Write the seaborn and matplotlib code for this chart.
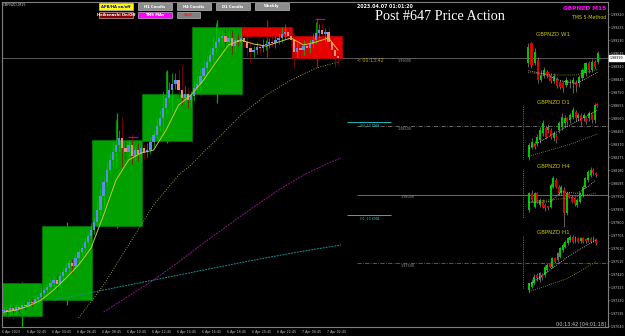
import numpy as np
import pandas as pd
import matplotlib
matplotlib.use("Agg")
import matplotlib.pyplot as plt
import seaborn as sns
from matplotlib.patches import Rectangle
from matplotlib.lines import Line2D
import matplotlib.transforms as mtransforms

sns.set_theme(style="dark", rc={"figure.facecolor": "black", "axes.facecolor": "black",
                                "axes.edgecolor": "#808080", "axes.grid": False})
plt.rcParams['font.family'] = ['DejaVu Sans']

# ---------------- data: main M15 chart ----------------
closes = [1.97157, 1.97142, 1.97172, 1.97150, 1.97179, 1.97164, 1.97194, 1.97186, 1.97215, 1.97208,
          1.97237, 1.97252, 1.97281, 1.97303, 1.97325, 1.97354, 1.97376, 1.97347, 1.97406, 1.97435,
          1.97464, 1.97501, 1.97479, 1.97537, 1.97581, 1.97610, 1.97654, 1.97698, 1.97742, 1.97800,
          1.97888, 1.97990, 1.98093, 1.98180, 1.98253, 1.98312, 1.98363, 1.98414, 1.98341, 1.98312,
          1.98363, 1.98283, 1.98327, 1.98297, 1.98341, 1.98312, 1.98327, 1.98385, 1.98436, 1.98502,
          1.98560, 1.98634, 1.98707, 1.98765, 1.98809, 1.98838, 1.98765, 1.98707, 1.98736, 1.98692,
          1.98721, 1.98780, 1.98809, 1.98868, 1.98926, 1.98970, 1.99021, 1.99072, 1.99116, 1.99145,
          1.99160, 1.99116, 1.99145, 1.99087, 1.99131, 1.99116, 1.99145, 1.99116, 1.99072, 1.99043,
          1.99058, 1.99079, 1.99072, 1.99094, 1.99101, 1.99116, 1.99109, 1.99131, 1.99145, 1.99175,
          1.99189, 1.99160, 1.99131, 1.99043, 1.99072, 1.99058, 1.99087, 1.99072, 1.99101, 1.99131,
          1.99182, 1.99204, 1.99175, 1.99189, 1.99116, 1.99058, 1.99014, 1.98999]
first_open = 1.97150
wick_up = [2, 1, 3, 2, 2, 1, 3, 2, 2, 2,
           3, 2, 3, 2, 3, 4, 2, 5, 3, 3,
           4, 2, 3, 4, 3, 3, 4, 3, 5, 4,
           6, 5, 4, 6, 5, 8, 18, 6, 15, 5,
           4, 8, 3, 5, 4, 3, 5, 4, 4, 5,
           6, 12, 20, 6, 8, 5, 7, 18, 6, 5,
           4, 5, 6, 5, 6, 5, 6, 8, 14, 5,
           4, 5, 4, 6, 3, 4, 5, 3, 4, 5,
           3, 4, 3, 4, 3, 3, 4, 3, 4, 5,
           6, 4, 3, 5, 4, 3, 4, 3, 4, 5,
           8, 4, 5, 3, 4, 3, 2, 2]
wick_dn = [2, 3, 2, 6, 2, 3, 2, 3, 2, 2,
           2, 3, 2, 3, 2, 2, 3, 4, 2, 3,
           2, 3, 5, 2, 3, 2, 3, 2, 3, 3,
           3, 4, 8, 4, 3, 4, 12, 5, 14, 6,
           5, 6, 4, 5, 6, 5, 4, 3, 4, 3,
           4, 10, 5, 4, 16, 4, 6, 5, 4, 6,
           5, 4, 3, 4, 3, 4, 3, 4, 4, 3,
           4, 5, 3, 6, 4, 3, 5, 4, 6, 8,
           4, 3, 4, 3, 4, 3, 3, 4, 3, 3,
           4, 3, 5, 12, 4, 5, 4, 3, 4, 3,
           3, 4, 3, 5, 6, 6, 8, 5]
PIP = 0.0001

# H4 condition boxes (in M15 bar units)
box_start = [-0.5, 12.25, 28.25, 44.25, 60.25, 76.25, 92.25]
box_end = [12.25, 28.25, 44.25, 60.25, 76.25, 92.25, 108.25]
box_open = [1.97113, 1.97230, 1.97771, 1.98392, 1.98735, 1.99225, 1.99159]
box_close = [1.97354, 1.97771, 1.98399, 1.98735, 1.99225, 1.99159, 1.98999]
box_high = [1.97360, 1.97800, 1.98597, 1.98911, 1.99276, 1.99276, 1.99291]
box_low = [1.97033, 1.97193, 1.97756, 1.98377, 1.98670, 1.99006, 1.98933]

# moving averages (bar index, value)
ma_fast_bar = [0, 4, 8, 12, 16, 20, 24, 28, 32, 36, 40, 44, 48, 52, 56, 60, 64, 68, 72, 76,
               80, 84, 88, 92, 96, 100, 104, 107]
ma_fast = [1.97142, 1.97157, 1.97186, 1.97230, 1.97303, 1.97391, 1.97486, 1.97610, 1.97851, 1.98107,
           1.98253, 1.98304, 1.98326, 1.98472, 1.98655, 1.98728, 1.98838, 1.98969, 1.99094, 1.99130,
           1.99101, 1.99086, 1.99116, 1.99145, 1.99094, 1.99116, 1.99145, 1.99057]
ma_slow_bar = [24, 32, 40, 48, 56, 60, 64, 68, 76, 84, 92, 100, 107]
ma_slow = [1.97098, 1.97340, 1.97632, 1.97924, 1.98144, 1.98217, 1.98312, 1.98399, 1.98582,
           1.98728, 1.98838, 1.98925, 1.98969]
ma_purple_bar = [32, 40, 48, 56, 64, 72, 80, 88, 96, 104, 108]
ma_purple = [1.97142, 1.97259, 1.97376, 1.97508, 1.97647, 1.97778, 1.97910, 1.98034, 1.98144,
             1.98231, 1.98268]
ma_teal_bar = [16, 32, 48, 64, 80, 96, 108]
ma_teal = [1.97230, 1.97303, 1.97376, 1.97449, 1.97522, 1.97588, 1.97632]

bid_price = 1.98999
round_levels = [1.99000, 1.98500, 1.98000, 1.97500]
ema_levels = [1.98531, 1.97851]
ema_names = ["4H_10 EMA", "D1_10 EMA"]
sr_marks_price = [1.98421, 1.99284]
sr_marks_start = [39.8, 99.7]
sr_marks_end = [43.0, 102.9]

time_label_bars = [0, 8, 16, 24, 32, 40, 48, 56, 64, 72, 80, 88, 96, 104]
time_labels = ["6 Apr 2023", "6 Apr 02:45", "6 Apr 04:45", "6 Apr 06:45", "6 Apr 08:45",
               "6 Apr 10:45", "6 Apr 12:45", "6 Apr 14:45", "6 Apr 16:45", "6 Apr 18:45",
               "6 Apr 20:45", "6 Apr 22:45", "7 Apr 00:45", "7 Apr 02:45"]
price_ticks = [1.97040, 1.97135, 1.97230, 1.97325, 1.97420, 1.97515, 1.97610, 1.97705, 1.97800,
               1.97895, 1.97990, 1.98085, 1.98180, 1.98275, 1.98370, 1.98465, 1.98560, 1.98655,
               1.98750, 1.98845, 1.98940, 1.99035, 1.99130, 1.99225, 1.99320]

# ---------------- data: mini panels (relative levels) ----------------
w1_open = [300, 360, 300, 310, 250, 262, 275, 265, 248, 250, 245, 240, 235, 245, 240, 245, 240, 255, 270, 300, 280, 305, 305]
w1_close = [350, 295, 335, 250, 265, 280, 265, 248, 262, 232, 228, 225, 250, 240, 250, 235, 260, 280, 300, 280, 305, 290, 330]
w1_high = [360, 365, 345, 320, 280, 290, 280, 272, 270, 258, 250, 248, 258, 252, 258, 250, 265, 285, 305, 308, 312, 310, 338]
w1_low = [290, 285, 295, 240, 245, 255, 255, 240, 240, 225, 222, 215, 230, 225, 210, 215, 230, 250, 262, 270, 275, 282, 298]
w1_wma_i = [0, 5, 10, 15, 19, 22]
w1_wma = [278, 268, 248, 240, 258, 275]
w1_oma_i = [0, 9, 15, 22]
w1_oma = [272, 265, 265, 282]

d1_open = [20, 50, 60, 60, 70, 90, 105, 100, 100, 75, 85, 100, 110, 120, 135, 130, 140, 155, 135, 145, 135, 140, 135, 150, 130, 178]
d1_close = [55, 65, 50, 80, 100, 120, 80, 110, 80, 90, 70, 120, 140, 135, 125, 145, 160, 135, 145, 125, 145, 125, 150, 130, 175, 172]
d1_high = [62, 75, 68, 88, 108, 130, 112, 118, 105, 98, 90, 128, 150, 145, 140, 152, 168, 160, 150, 150, 152, 142, 158, 155, 180, 180]
d1_low = [10, 42, 44, 52, 62, 82, 72, 92, 72, 66, 60, 92, 100, 112, 115, 122, 132, 128, 128, 115, 128, 118, 128, 122, 122, 168]
d1_wma_i = [0, 8, 16, 25]
d1_wma = [45, 85, 120, 160]
d1_oma_i = [0, 8, 16, 25]
d1_oma = [22, 40, 60, 88]

h4_open = [250, 300, 260, 300, 265, 275, 265, 262, 260, 320, 340, 320, 300, 310, 240, 300, 290, 285, 265, 275, 295, 320, 340, 355, 370, 362]
h4_close = [300, 280, 300, 275, 280, 260, 255, 255, 325, 345, 320, 300, 320, 240, 300, 290, 275, 270, 280, 300, 320, 345, 365, 370, 360, 355]
h4_high = [305, 310, 305, 305, 285, 282, 270, 265, 330, 352, 345, 325, 325, 318, 305, 305, 295, 290, 285, 305, 325, 350, 370, 378, 375, 365]
h4_low = [245, 275, 255, 270, 258, 255, 248, 250, 255, 315, 315, 295, 295, 200, 235, 285, 270, 262, 258, 270, 290, 315, 335, 350, 355, 350]
h4_wma_i = [0, 8, 12, 18, 22, 25]
h4_wma = [272, 275, 305, 300, 320, 340]
h4_oma_i = [0, 14, 25]
h4_oma = [275, 285, 300]

h1_open = [10, 20, 30, 55, 40, 55, 55, 70, 90, 80, 105, 100, 110, 130, 140, 150, 160, 170, 158, 167, 158, 165, 162, 160, 163, 160, 162]
h1_close = [30, 35, 50, 45, 60, 45, 80, 85, 80, 105, 95, 120, 135, 145, 155, 165, 170, 155, 168, 155, 165, 155, 157, 165, 155, 167, 152]
h1_high = [35, 42, 58, 60, 65, 60, 85, 92, 95, 110, 110, 125, 140, 150, 160, 170, 176, 175, 172, 170, 170, 168, 165, 170, 168, 172, 165]
h1_low = [2, 15, 25, 38, 35, 40, 50, 65, 75, 75, 90, 95, 105, 125, 135, 145, 155, 150, 152, 150, 152, 150, 150, 155, 150, 155, 145]
h1_wma_i = [0, 16, 26]
h1_wma = [25, 115, 160]
h1_oma_i = [0, 15, 26]
h1_oma = [5, 45, 95]

# ---------------- figure ----------------
W, H = 625, 336
fig = plt.figure(figsize=(W / 100, H / 100), dpi=100, facecolor='black')


def fx(x):
    return x / W


def fy(y):
    return 1 - y / H


ax = fig.add_axes([2 / W, 9 / H, 606 / W, 325 / H])
ax.set_facecolor('black')
ax.set_xlim(-0.5, 193.42)
ax.set_ylim(1.97033, 1.99408)
for s in ax.spines.values():
    s.set_color('#808080')
    s.set_linewidth(0.8)

# H4 boxes
for s0, s1, o, c, hi, lo in zip(box_start, box_end, box_open, box_close, box_high, box_low):
    col = '#00a000' if c >= o else '#e60000'
    wcol = '#00b000' if c >= o else '#e60000'
    mid = (s0 + s1) / 2
    ax.vlines(mid, lo, hi, color=wcol, lw=0.9, zorder=1)
    ax.add_patch(Rectangle((s0, min(o, c)), s1 - s0, abs(c - o), facecolor=col,
                           edgecolor='#007a00' if c >= o else '#c00000', lw=0.5, zorder=1.5))

# candles
c_arr = np.array(closes)
o_arr = np.array([first_open] + closes[:-1])
x_arr = np.arange(len(closes))
hi_arr = np.maximum(o_arr, c_arr) + np.array(wick_up) * PIP
lo_arr = np.minimum(o_arr, c_arr) - np.array(wick_dn) * PIP
up = c_arr >= o_arr
ax.vlines(x_arr[up], lo_arr[up], hi_arr[up], color='#00c800', lw=0.5, zorder=3)
ax.vlines(x_arr[~up], lo_arr[~up], hi_arr[~up], color='#a00000', lw=0.5, zorder=3)
body = np.maximum(np.abs(c_arr - o_arr), 0.00003)
ax.bar(x_arr, body, bottom=np.minimum(o_arr, c_arr), width=0.72,
       color=np.where(up, '#5b8def', '#f4877a'), linewidth=0, zorder=4)

# moving averages
sns.lineplot(x=ma_teal_bar, y=ma_teal, ax=ax, color='#1f8f8f', lw=0.7, linestyle=(0, (2, 1)), zorder=2)
sns.lineplot(x=ma_purple_bar, y=ma_purple, ax=ax, color='#8b1a8b', lw=0.7, linestyle=(0, (2, 1)), zorder=2)
sns.lineplot(x=ma_slow_bar, y=ma_slow, ax=ax, color='#9a9a2a', lw=0.7, linestyle=(0, (1, 1.5)), zorder=2)
sns.lineplot(x=ma_fast_bar, y=ma_fast, ax=ax, color='#c8c83c', lw=0.7, zorder=5)

for p, s0, s1 in zip(sr_marks_price, sr_marks_start, sr_marks_end):
    ax.hlines(p, s0, s1, color='#b000b0', lw=0.9, zorder=6)

# horizontal levels
ax.axhline(bid_price, color='#5a5a5a', lw=0.7, zorder=0.5)
ax.hlines(round_levels[1], 113.1, 193.42, color='#8a8a8a', lw=0.5, linestyles=[(0, (6, 2, 1, 2))])
ax.hlines(round_levels[2], 113.1, 193.42, color='#7a7a7a', lw=0.6)
ax.hlines(round_levels[3], 113.1, 193.42, color='#7a7a7a', lw=0.5, linestyles=[(0, (6, 2, 1, 2))])
for lev, name in zip(ema_levels, ema_names):
    ax.hlines(lev, 109.9, 124.0, color='#20b8b8', lw=0.7)
    ax.annotate(name, (117.0, lev), xytext=(0, -2.2), textcoords='offset points',
                ha='center', va='center', fontsize=2.4, color='#20b8b8')
for lev, px in zip(round_levels, [397, 397, 400, 400]):
    ax.annotate(f"{lev:.5f}", ((px + 8 - 2) / 3.125 - 0.5, lev), xytext=(0, -2),
                textcoords='offset points', ha='center', va='center', fontsize=2.4, color='#9a9a9a')

# axes ticks
ax.yaxis.tick_right()
ax.set_yticks(price_ticks)
ax.set_yticklabels([f"{v:.5f}" for v in price_ticks])
ax.tick_params(axis='y', colors='#808080', labelcolor='#c8c8c8', labelsize=2.3, length=1.2, width=0.4, pad=0.8)
ax.set_xticks([b - 0.45 for b in time_label_bars])
ax.set_xticklabels(time_labels)
ax.tick_params(axis='x', colors='#808080', labelcolor='#c8c8c8', labelsize=2.3, length=1.5, width=0.4, pad=1)
for lbl in ax.get_xticklabels():
    lbl.set_ha('left')
ax.set_xlabel('')
ax.set_ylabel('')

bt = mtransforms.blended_transform_factory(ax.transAxes, ax.transData)
ax.text(1.003, bid_price, f"{bid_price:.5f}", transform=bt, ha='left', va='center', fontsize=2.3,
        color='black', clip_on=False, zorder=10,
        bbox=dict(boxstyle='square,pad=0.25', fc='white', ec='white'))


# ---------------- mini panels ----------------
def panel(x0, x1, ytop, ybot, origin, o, c, h, l, wi, wv, oi, ov, title, ty):
    a = fig.add_axes([fx(x0), fy(ybot), (x1 - x0) / W, (ybot - ytop) / H])
    a.set_facecolor('none')
    a.axis('off')
    n = len(o)
    a.set_xlim(-0.5, n - 0.5)
    a.set_ylim(400 - 3 * (ybot - origin), 400 - 3 * (ytop - origin))
    o = np.array(o); c = np.array(c)
    xi = np.arange(n)
    a.vlines(xi, l, h, color='#9a9a9a', lw=0.45, zorder=2)
    a.bar(xi, np.maximum(np.abs(c - o), 2), bottom=np.minimum(o, c), width=0.72,
          color=np.where(c >= o, '#00c800', '#e00000'), linewidth=0, zorder=3)
    sns.lineplot(x=oi, y=ov, ax=a, color='#a0a020', lw=0.6, linestyle=(0, (1, 1.5)), zorder=4)
    sns.lineplot(x=wi, y=wv, ax=a, color='#d0d0d0', lw=0.6, linestyle=(0, (1, 1.5)), zorder=4)
    fig.text(fx(553), fy(ty), title, ha='center', va='center', fontsize=4.0, color='#c8c800')


panel(526.7, 599.9, 32, 100, 30, w1_open, w1_close, w1_high, w1_low, w1_wma_i, w1_wma, w1_oma_i, w1_oma, "GBPNZD W1", 35)
panel(527.9, 598.7, 98, 165, 30, d1_open, d1_close, d1_high, d1_low, d1_wma_i, d1_wma, d1_oma_i, d1_oma, "GBPNZD D1", 102)
panel(528.0, 597.3, 163, 230, 160, h4_open, h4_close, h4_high, h4_low, h4_wma_i, h4_wma, h4_oma_i, h4_oma, "GBPNZD H4", 167)
panel(528.0, 597.3, 228, 295, 160, h1_open, h1_close, h1_high, h1_low, h1_wma_i, h1_wma, h1_oma_i, h1_oma, "GBPNZD H1", 233)

for y0, y1 in [(105, 160), (169, 218), (236, 288)]:
    fig.add_artist(Line2D([fx(522.7), fx(522.7)], [fy(y0), fy(y1)], transform=fig.transFigure,
                          color='#8a8a8a', lw=0.6, linestyle=(0, (1, 1.2))))

# ---------------- buttons & texts ----------------
buttons = [("APB/HA on/off", 99, 3, 133, 10, '#ffff00', '#0000e0'),
           ("H1 Condis", 138, 3, 172, 10, '#8c8c8c', 'white'),
           ("H4 Condis", 177, 3, 211, 10, '#8c8c8c', 'white'),
           ("D1 Condis", 216, 3, 250, 10, '#8c8c8c', 'white'),
           ("Weekly", 255, 3, 289, 10, '#8c8c8c', 'white'),
           ("Heikenashi On/Off", 99, 12, 133, 18, '#8b0000', 'white'),
           ("TMS MAs", 138, 12, 172, 18, '#ff00ff', 'white'),
           ("S&R", 177, 12, 200, 18, '#808080', '#ff2020')]
for txt, x0, y0, x1, y1, bg, fg in buttons:
    fig.add_artist(Rectangle((fx(x0), fy(y1)), (x1 - x0) / W, (y1 - y0) / H, transform=fig.transFigure,
                             facecolor=bg, edgecolor='#d8d8d8', lw=0.4))
    fig.text(fx((x0 + x1) / 2), fy((y0 + y1) / 2), txt, ha='center', va='center', fontsize=2.7,
             color=fg, fontweight='bold')

fig.text(fx(3), fy(4.5), "GBPNZD,M15", ha='left', va='center', fontsize=2.5, color='#c8c8c8')
fig.text(fx(384.5), fy(6), "2023.04.07 01:01:20", ha='center', va='center', fontsize=3.4,
         color='white', fontweight='bold')
fig.text(fx(440), fy(16), "Post #647 Price Action", ha='center', va='center', fontsize=10.2,
         color='white', family=['Liberation Serif'])
fig.text(fx(606), fy(8), "GBPNZD M15", ha='right', va='center', fontsize=4.2, color='#ff00ff',
         fontweight='bold')
fig.text(fx(606), fy(17.5), "TMS 5-Method", ha='right', va='center', fontsize=3.4, color='#d0c800')
fig.text(fx(357), fy(60), "< 00:13:42", ha='left', va='center', fontsize=3.4, color='#c89a10')
fig.text(fx(606), fy(324), "00:13:42 [04:01:18]", ha='right', va='center', fontsize=3.6, color='#c8c8c8')

fig.savefig("out.png", dpi=100, facecolor='black')
